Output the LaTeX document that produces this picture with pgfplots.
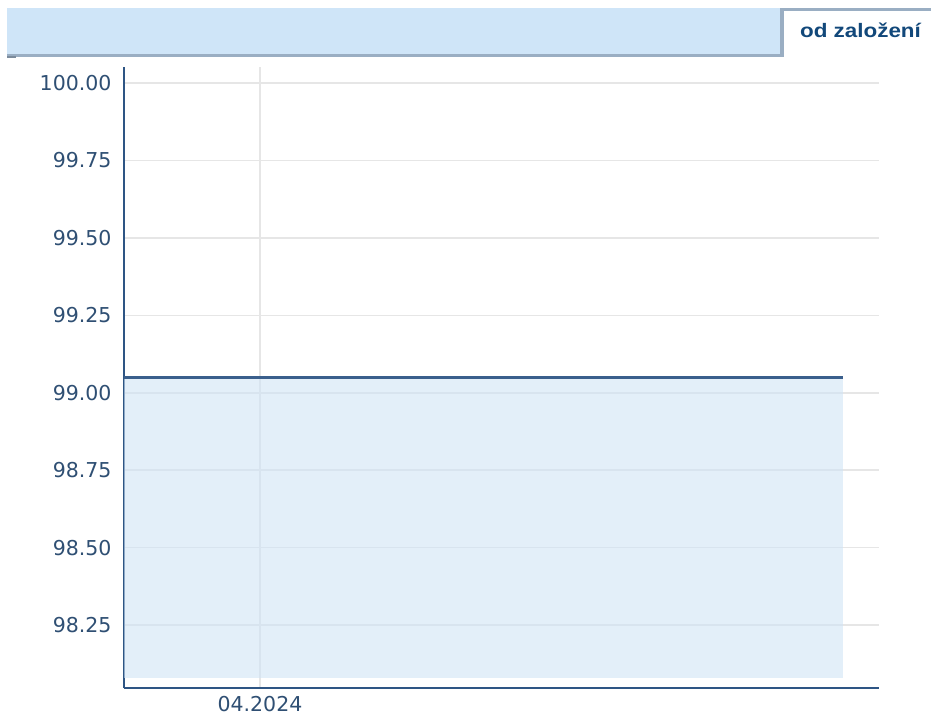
\documentclass[border=0pt]{standalone}
\usepackage{pgfplots}
\pgfplotsset{compat=1.18}
\usepackage{fontspec}
\setmainfont{DejaVu Sans}
\newfontfamily\tabfont[FakeStretch=1.15]{Liberation Sans}
\definecolor{barblue}{HTML}{CFE5F8}
\definecolor{bordergray}{HTML}{9AAEC3}
\definecolor{tabtext}{HTML}{12487A}
\definecolor{axisblue}{HTML}{2E5584}
\definecolor{lineblue}{HTML}{3A5F8C}
\definecolor{areablue}{HTML}{D0E4F5}
\definecolor{gridgray}{HTML}{E6E6E6}
\definecolor{ticktext}{HTML}{2F4F73}
\begin{document}
\begin{tikzpicture}[x=1pt,y=1pt]
\useasboundingbox (0,0) rectangle (931,718);
% header bar
\fill[barblue] (7,663) rectangle (781,710);
\fill[bordergray] (7,661) rectangle (781,663.5);
\fill[bordergray!80!black] (7,660) rectangle (16,661.5);
\fill[white] (781,661) rectangle (931,710);
\fill[bordergray] (780,661) rectangle (783.5,710);
\fill[bordergray] (780,706.5) rectangle (931,710);
\node[anchor=base, text=tabtext, font=\tabfont\bfseries\fontsize{19.5}{22}\selectfont] at (860.5,680.5) {od založení};
\begin{axis}[
  at={(124pt,30pt)}, anchor=south west,
  scale only axis, width=755pt, height=621pt,
  xmin=0, xmax=755, ymin=98.047, ymax=100.052,
  axis x line=bottom, axis y line=left,
  axis line style={-, draw=axisblue, line width=2pt},
  ytick={98.25,98.5,98.75,99,99.25,99.5,99.75,100},
  xtick={136}, xticklabels={04.2024},
  major tick length=0pt,
  ymajorgrids, xmajorgrids,
  grid style={gridgray, line width=1.6pt},
  /pgf/number format/assume math mode=true,
  /pgf/number format/.cd, fixed, fixed zerofill, precision=2, 1000 sep={},
  /pgfplots/.cd,
  tick label style={text=ticktext, font=\fontsize{20.5}{24}\selectfont},
  yticklabel style={xshift=-9pt},
  xticklabel style={yshift=-5pt},
  clip=false,
]
\addplot[fill=areablue, fill opacity=0.6, draw=none] coordinates {(0,98.08) (0,99.05) (719,99.05) (719,98.08)} -- cycle;
\addplot[lineblue, line width=2.4pt] coordinates {(0,99.05) (719,99.05)};
\end{axis}
\end{tikzpicture}
\end{document}
